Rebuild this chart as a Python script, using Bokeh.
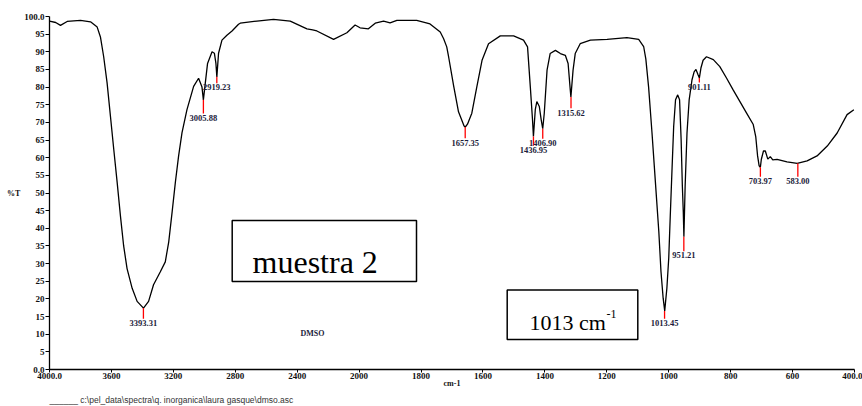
import numpy as np
from bokeh.plotting import figure
from bokeh.models import Range1d, FixedTicker, Label, BoxAnnotation, ColumnDataSource, Title
from bokeh.embed import file_html
from bokeh.resources import INLINE
from bokeh.core.properties import value

# ---------------- data ----------------
wavenumber = [4000, 3960, 3929, 3886, 3800, 3735, 3692, 3671, 3650, 3628, 3606, 3585,
              3563, 3542, 3521, 3499, 3466, 3434, 3393, 3360, 3328, 3284, 3252, 3230,
              3208, 3187, 3166, 3144, 3112, 3069, 3037, 3015, 3006, 2994, 2979, 2950,
              2935, 2925, 2919, 2908, 2886, 2854, 2821, 2779, 2768, 2660, 2553, 2445,
              2337, 2300, 2273, 2165, 2079, 2026, 1997, 1970, 1948, 1921, 1900, 1878,
              1814, 1771, 1738, 1727, 1717, 1711, 1695, 1679, 1661, 1657, 1650, 1636,
              1620, 1603, 1582, 1544, 1501, 1469, 1456, 1447, 1440, 1437, 1431, 1426,
              1418, 1412, 1407, 1402, 1393, 1383, 1366, 1350, 1334, 1325, 1318, 1316,
              1309, 1302, 1286, 1253, 1199, 1135, 1097, 1081, 1074, 1065, 1054, 1043,
              1032, 1025, 1018, 1013, 1006, 1000, 995, 989, 984, 978, 971, 965, 960,
              956, 953, 951, 947, 941, 934, 925, 918, 912, 905, 901, 896, 889, 878,
              856, 835, 813, 792, 770, 749, 727, 719, 713, 708, 704, 701, 694, 688,
              680, 672, 664, 650, 618, 585, 553, 521, 488, 456, 424, 402]
transmittance = [98.7, 98.3, 97.5, 98.6, 98.9, 98.5, 97.0, 94.2, 88.6, 81.2, 71.6, 62.4,
                 53.0, 43.6, 35.0, 28.6, 23.0, 19.3, 17.4, 19.3, 24.0, 27.7, 30.5, 36.1,
                 44.6, 53.0, 60.5, 67.1, 73.6, 80.2, 82.5, 80.0, 76.4, 81.0, 86.7, 90.0,
                 89.6, 86.7, 82.9, 89.6, 93.3, 94.7, 95.9, 97.8, 98.1, 98.7, 99.2, 98.7,
                 96.5, 96.2, 95.9, 93.5, 95.4, 97.6, 96.8, 96.5, 98.1, 98.7, 98.2, 98.9,
                 98.9, 97.9, 95.6, 93.7, 91.4, 88.6, 80.5, 73.0, 69.0, 68.7, 69.5, 72.6,
                 80.0, 87.6, 92.3, 94.5, 94.5, 93.3, 91.4, 80.0, 70.8, 66.0, 73.6, 75.9,
                 74.5, 70.8, 68.2, 72.6, 84.8, 89.5, 90.4, 89.5, 89.0, 86.7, 79.2, 77.2,
                 84.8, 89.5, 92.3, 93.3, 93.5, 94.0, 93.5, 91.5, 88.0, 80.0, 67.0, 53.0,
                 39.0, 27.7, 20.2, 16.6, 23.0, 31.5, 43.6, 57.6, 68.9, 76.4, 77.8, 76.4, 65.2,
                 52.0, 44.7, 37.6, 52.0, 67.0, 76.4, 82.0, 84.3, 85.0, 83.4, 82.6, 85.4, 87.6, 88.6,
                 87.8, 85.8, 82.5, 79.2, 75.9, 72.7, 69.4, 66.0, 60.5, 57.7, 57.3, 59.5, 61.9, 61.9,
                 59.6, 60.3, 59.4, 59.5, 58.8, 58.4, 59.1, 60.5, 63.3, 67.0, 72.2, 73.6]

peak_wn = [3393.31, 3005.88, 2919.23, 1657.35, 1436.95, 1406.90, 1315.62,
           1013.45, 951.21, 901.11, 703.97, 583.00]
peak_T = [17.4, 76.4, 82.9, 68.7, 66.0, 68.2, 77.2, 16.6, 37.6, 82.6, 57.3, 58.4]
label_T = [13.2, 71.3, 79.9, 64.3, 62.2, 64.2, 72.8, 13.2, 32.3, 80.1, 53.4, 53.4]

x_ticks = [4000, 3600, 3200, 2800, 2400, 2000, 1800, 1600, 1400, 1200, 1000, 800, 600, 400]
x_tick_labels = ["4000.0", "3600", "3200", "2800", "2400", "2000", "1800", "1600",
                 "1400", "1200", "1000", "800", "600", "400.0"]
y_ticks = list(range(0, 101, 5))
y_tick_labels = ["0.0"] + [str(v) for v in range(5, 100, 5)] + ["100.0"]

sample_name = "muestra 2"
band_text = "1013 cm"
band_sup = "-1"
solvent = "DMSO"
x_unit = "cm-1"
y_unit = "%T"
file_path = "c:\\pel_data\\spectra\\q.  inorganica\\laura gasque\\dmso.asc"


# wavenumber axis is expanded 2x below 2000 cm-1 (as on the instrument chart)
def to_u(w):
    w = np.asarray(w, dtype=float)
    return np.where(w >= 2000, 4000 - w, 2000 + 2 * (2000 - w))


U_PER_PX = 5200 / 805.0


def px_u(px):
    return (px - 49) * U_PER_PX


def py_T(py):
    return (372 - py) / 3.56


# ---------------- figure ----------------
p = figure(width=862, height=406, output_backend="svg", toolbar_location=None,
           x_range=Range1d(0, 5200), y_range=Range1d(0, 100),
           min_border_left=49, min_border_right=8, min_border_top=16, min_border_bottom=34)
p.outline_line_color = None
p.xgrid.visible = False
p.ygrid.visible = False
p.background_fill_color = "white"
p.border_fill_color = "white"

src = ColumnDataSource(dict(u=to_u(wavenumber), t=transmittance))
p.line("u", "t", source=src, line_color="black", line_width=1.3)

pk = ColumnDataSource(dict(u=to_u(peak_wn), t0=peak_T, t1=[v + 1.2 for v in label_T],
                           tl=label_T, txt=["%.2f" % w for w in peak_wn]))
p.segment(x0="u", y0="t0", x1="u", y1="t1", source=pk, line_color="red", line_width=1.3)
p.text(x="u", y="tl", text="txt", source=pk, text_align="center", text_baseline="middle",
       text_font=value("Liberation Serif"), text_font_size="8.5px", text_font_style="bold",
       text_color="#1c1c3a")

# axes
xt = [int(v) for v in to_u(x_ticks)]
p.xaxis.ticker = FixedTicker(ticks=xt, minor_ticks=[])
p.xaxis.major_label_overrides = {k: l for k, l in zip(xt, x_tick_labels)}
p.yaxis.ticker = FixedTicker(ticks=y_ticks, minor_ticks=[])
p.yaxis.major_label_overrides = {k: l for k, l in zip(y_ticks, y_tick_labels)}
for ax in (p.xaxis, p.yaxis):
    ax.axis_line_color = "black"
    ax.axis_line_width = 1.3
    ax.major_tick_line_color = "black"
    ax.major_tick_in = 0
    ax.major_label_text_font = "Liberation Serif"
    ax.major_label_text_font_size = "9px"
    ax.major_label_text_font_style = "bold"
    ax.major_label_text_color = "#111111"
    ax.axis_label_text_font = "Liberation Serif"
    ax.axis_label_text_font_size = "8px"
    ax.axis_label_text_font_style = "bold"
    ax.axis_label_text_color = "#111111"
p.xaxis.major_tick_out = 3
p.xaxis.major_label_standoff = 0
p.xaxis.axis_label = x_unit
p.xaxis.axis_label_standoff = -3
p.yaxis.major_tick_out = 4
p.yaxis.major_label_standoff = 1
p.yaxis.axis_label = y_unit
p.yaxis.axis_label_orientation = "horizontal"
p.yaxis.axis_label_standoff = 1

# footer line + file name
p.add_layout(Title(text="______  " + file_path, align="left", text_font="Liberation Sans",
                   text_font_size="8.5px", text_font_style="normal", text_color="#333333",
                   standoff=4), "below")

# boxes
p.add_layout(BoxAnnotation(left=px_u(231.7), right=px_u(416), top=py_T(221.7), bottom=py_T(283.3),
                           fill_color=None, line_color="black", line_alpha=1.0, line_width=1.5))
p.add_layout(Label(x=px_u(314.7), y=py_T(263.3), text=sample_name, text_align="center",
                   text_baseline="alphabetic", text_font="Liberation Serif", text_font_size="32px",
                   text_color="black"))
p.add_layout(BoxAnnotation(left=px_u(506.7), right=px_u(637.3), top=py_T(291.7), bottom=py_T(341.7),
                           fill_color=None, line_color="black", line_alpha=1.0, line_width=1.5))
p.add_layout(Label(x=px_u(529), y=py_T(325), text=band_text, text_align="left",
                   text_baseline="alphabetic", text_font="Liberation Serif", text_font_size="22px",
                   text_color="black"))
p.add_layout(Label(x=px_u(606), y=py_T(316.5), text=band_sup, text_align="left",
                   text_baseline="alphabetic", text_font="Liberation Serif", text_font_size="12px",
                   text_color="black"))

p.add_layout(Label(x=px_u(312), y=py_T(336), text=solvent, text_align="center",
                   text_baseline="middle", text_font="Liberation Serif", text_font_size="8px",
                   text_font_style="bold", text_color="#1c1c3a"))

open("out.html", "w").write(file_html(p, INLINE))
